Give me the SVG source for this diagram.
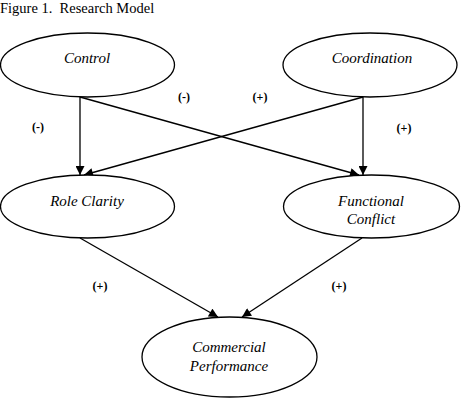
<svg xmlns="http://www.w3.org/2000/svg" width="462" height="403" viewBox="0 0 462 403" font-family="Liberation Serif, serif">
<style>
.node{fill:#fff;stroke:#000;stroke-width:1.3}
.lbl{font-size:15px;font-style:italic;text-anchor:middle;fill:#000}
.sign{font-weight:bold;font-size:12px;text-anchor:middle;fill:#000}
.edge{stroke:#000;stroke-width:1.3;fill:none;marker-end:url(#arr)}
</style>
<defs>
<marker id="arr" viewBox="0 0 10 10" refX="10" refY="5" markerWidth="10" markerHeight="9" markerUnits="userSpaceOnUse" orient="auto">
<path d="M0,0 L10,5 L0,10 z" fill="#000"/>
</marker>
</defs>
<rect width="462" height="403" fill="#fff"/>
<text x="0" y="13" font-size="14.5" xml:space="preserve">Figure 1.  Research Model</text>
<g id="connectors">
<line class="edge" x1="80" y1="97" x2="80" y2="175"/>
<line class="edge" x1="80" y1="97" x2="359" y2="175"/>
<line class="edge" x1="363" y1="97" x2="363" y2="175"/>
<line class="edge" x1="363" y1="97" x2="84" y2="175"/>
<line class="edge" x1="80" y1="238" x2="218" y2="317"/>
<line class="edge" x1="362" y1="238" x2="242" y2="317"/>
</g>
<g id="signs" font-family="Liberation Serif, serif">
<text class="sign" x="184" y="101">(-)</text>
<text class="sign" x="260" y="101">(+)</text>
<text class="sign" x="38" y="131">(-)</text>
<text class="sign" x="404" y="132">(+)</text>
<text class="sign" x="100" y="290">(+)</text>
<text class="sign" x="339" y="290">(+)</text>
</g>
<g id="control">
<ellipse class="node" cx="87.5" cy="65" rx="87" ry="32"/>
<text class="lbl" x="87" y="63" font-family="Liberation Serif, serif">Control</text>
</g>
<g id="coordination">
<ellipse class="node" cx="370" cy="65" rx="87" ry="32"/>
<text class="lbl" x="372" y="63" font-family="Liberation Serif, serif">Coordination</text>
</g>
<g id="role-clarity">
<ellipse class="node" cx="87.5" cy="206.5" rx="87" ry="31.5"/>
<text class="lbl" x="87" y="206" font-family="Liberation Serif, serif">Role Clarity</text>
</g>
<g id="functional-conflict">
<ellipse class="node" cx="371.5" cy="206.5" rx="88" ry="31.5"/>
<text class="lbl" x="371" y="206" font-family="Liberation Serif, serif">Functional</text>
<text class="lbl" x="371" y="224" font-family="Liberation Serif, serif">Conflict</text>
</g>
<g id="commercial-performance">
<ellipse class="node" cx="229.5" cy="357" rx="87.5" ry="40"/>
<text class="lbl" x="229" y="352" font-family="Liberation Serif, serif">Commercial</text>
<text class="lbl" x="229" y="371" font-family="Liberation Serif, serif">Performance</text>
</g>
</svg>
